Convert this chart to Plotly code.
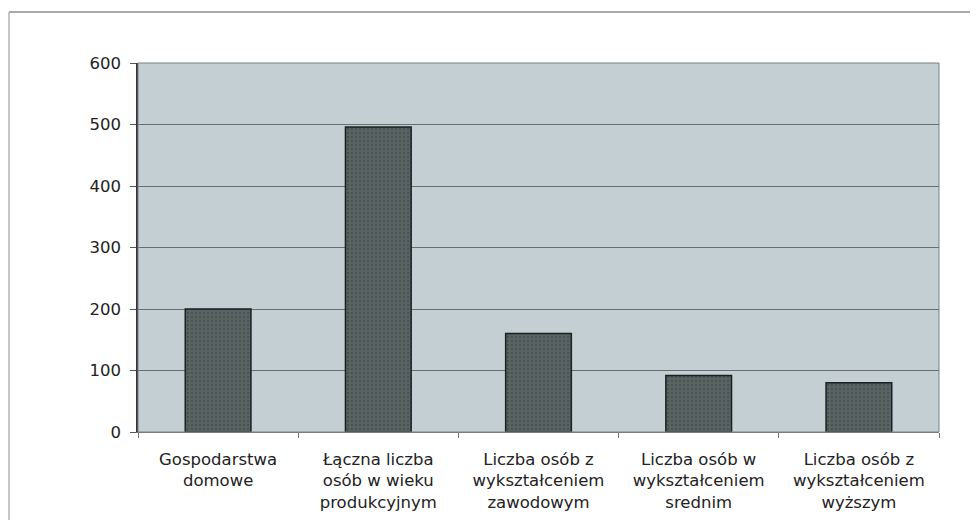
import plotly.graph_objects as go

categories = [
    "Gospodarstwa<br>domowe",
    "Łączna liczba<br>osób w wieku<br>produkcyjnym",
    "Liczba osób z<br>wykształceniem<br>zawodowym",
    "Liczba osób w<br>wykształceniem<br>srednim",
    "Liczba osób z<br>wykształceniem<br>wyższym",
]
values = [200, 496, 160, 92, 80]
y_ticks = [0, 100, 200, 300, 400, 500, 600]

W, H = 978, 520
ML, MR, MT, MB = 130, 47, 55, 96

fig = go.Figure(go.Bar(
    x=categories,
    y=values,
    marker=dict(
        color="#515b5b",
        line=dict(color="#1a1f1f", width=1.5),
        pattern=dict(shape=".", fgcolor="#3a4242", bgcolor="#5a6464", size=4, solidity=0.3),
    ),
    width=0.41,
    hoverinfo="x+y",
))

pw = W - ML - MR
ph = H - MT - MB
def px_x(p):
    return (p - ML) / pw
def px_y(p):
    return (H - MB - p) / ph

fig.update_layout(
    width=W, height=H,
    margin=dict(l=ML, r=MR, t=MT, b=MB, pad=0),
    paper_bgcolor="white",
    plot_bgcolor="#c3cfd2",
    font=dict(family="DejaVu Sans, Arial, sans-serif", size=16, color="#222"),
    showlegend=False,
    bargap=0.59,
    shapes=[
        dict(type="line", xref="paper", yref="paper",
             x0=px_x(1), x1=px_x(978), y0=px_y(4), y1=px_y(4),
             line=dict(color="#8a8f8f", width=1.5)),
        dict(type="line", xref="paper", yref="paper",
             x0=px_x(1), x1=px_x(1), y0=px_y(4), y1=px_y(520),
             line=dict(color="#b0b4b4", width=1.5)),
    ],
)
fig.update_yaxes(
    range=[0, 600], tickvals=y_ticks,
    showgrid=True, gridcolor="#667070", gridwidth=1,
    ticks="outside", ticklen=6, tickcolor="#555",
    showline=True, linecolor="#333", linewidth=1.5,
    mirror=False, zeroline=False,
    tickfont=dict(size=16.5, color="#222"),
    ticklabelstandoff=6,
)
fig.update_xaxes(
    showline=True, linecolor="#777", linewidth=1,
    ticks="outside", tickson="boundaries", ticklen=5, tickcolor="#777",
    tickfont=dict(size=16.5, color="#222"),
    ticklabelstandoff=12,
)
fig.add_shape(type="rect", xref="paper", yref="paper", x0=0, x1=1, y0=0, y1=1,
              line=dict(color="#7a8282", width=1), layer="above")

fig.write_html("out.html")
